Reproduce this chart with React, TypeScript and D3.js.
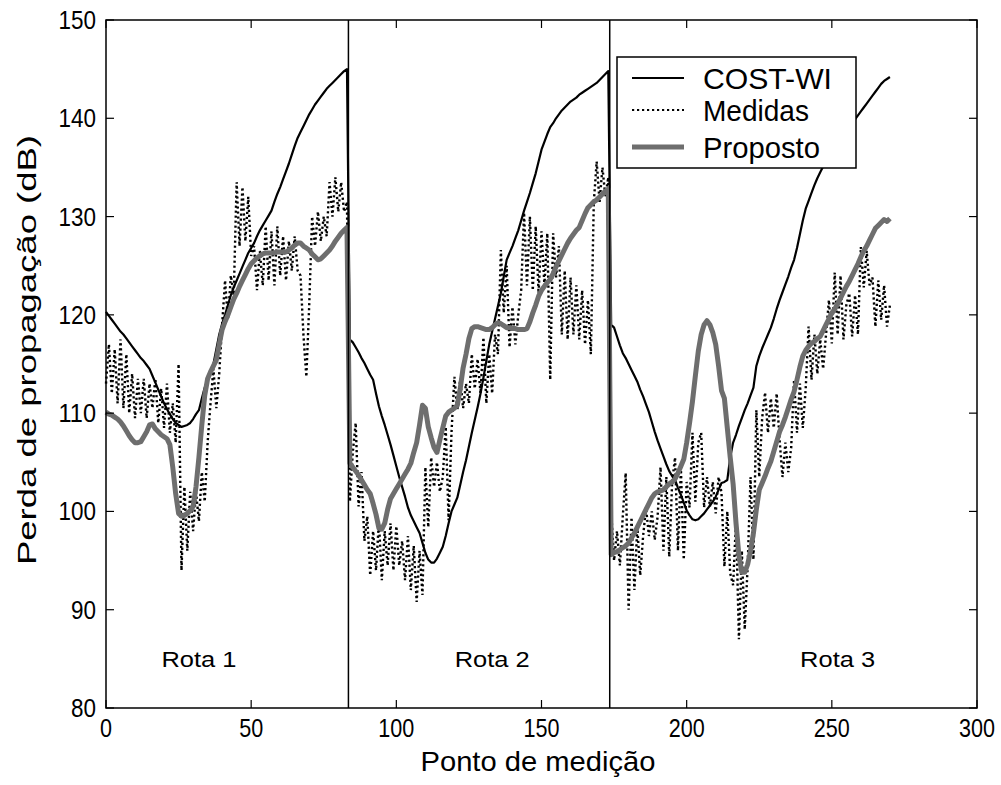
import React from "react";
import * as d3 from "d3";

// ---- DATA ----
const xTicks = [0, 50, 100, 150, 200, 250, 300];
const yTicks = [80, 90, 100, 110, 120, 130, 140, 150];
const routeBounds = [83.5, 173.5];
const routeLabels = ["Rota 1", "Rota 2", "Rota 3"];
const routeLabelX = [32, 133, 252];
const legendNames = ["COST-WI", "Medidas", "Proposto"];

// COST-WI model, points 0..270
const costRoute1 = [120.3,119.9,119.5,119.1,118.7,118.3,118.0,117.6,117.2,116.8,116.4,116.0,115.6,115.3,114.9,114.5,113.8,113.1,112.4,111.7,111.0,110.4,109.9,109.4,109.0,108.8,108.6,108.7,108.8,109.0,109.4,109.9,110.3,111.5,112.6,113.4,114.2,115.0,116.5,118.0,119.1,120.0,121.0,122.0,122.8,123.5,124.2,124.9,125.6,126.3,126.8,127.3,128.0,128.6,129.1,129.6,130.1,130.6,131.5,132.3,133.0,133.8,134.6,135.4,136.3,137.2,138.0,138.6,139.2,139.8,140.4,140.9,141.4,141.8,142.2,142.6,143.0,143.3,143.6,143.9,144.2,144.5,144.8,145.0];
const costRoute2 = [117.5,117.2,116.7,116.2,115.6,115.1,114.5,113.9,113.4,112.0,110.7,109.7,108.8,107.8,106.8,105.7,104.6,103.5,102.5,101.5,100.4,99.6,99.0,98.4,97.8,96.8,95.8,95.1,94.8,94.8,95.2,95.8,96.4,97.5,98.8,100.0,100.7,101.4,102.7,104.0,105.2,106.6,108.0,109.3,110.6,112.0,113.6,115.3,117.0,118.3,119.6,120.9,122.2,123.9,125.6,126.3,127.0,127.8,128.6,129.6,130.6,131.5,132.4,133.4,134.4,135.6,136.8,137.6,138.4,139.1,139.5,140.0,140.4,140.8,141.1,141.4,141.7,141.9,142.1,142.4,142.6,142.8,143.0,143.2,143.4,143.6,143.9,144.2,144.5,144.8];
const costRoute3 = [119.0,118.7,117.8,116.9,116.1,115.6,115.0,114.4,113.8,113.2,112.4,111.7,110.9,110.1,109.1,108.1,107.2,106.4,105.6,104.8,104.1,103.6,103.2,102.4,101.7,100.9,100.1,99.6,99.2,99.1,99.2,99.5,99.8,100.2,100.6,101.0,101.5,102.2,102.9,103.0,103.2,105.5,107.0,107.8,108.7,109.5,110.3,111.0,111.8,112.6,114.8,115.8,116.6,117.3,118.0,118.7,119.6,120.6,121.5,122.3,123.1,123.9,124.8,125.6,126.8,128.2,129.6,130.8,131.6,132.4,133.2,133.9,134.5,135.1,135.6,136.1,136.6,137.0,137.4,137.9,138.3,138.7,139.1,139.5,139.9,140.3,140.7,141.1,141.5,141.9,142.3,142.7,143.1,143.5,143.8,144.0,144.2];

// Measurements
const medRoute1 = [113,117,112,116.5,111,117.5,110.5,116,110,114,109.5,113.5,110,113.5,109.5,113,110.5,113.5,109,112.5,108.5,113,108,111,107,115,94,102.5,96,102,98,102,99,104,101,107,111,114.5,110.5,114,119,123.5,119.5,124,122,133.5,127,133,127.5,132,126,127,122.5,126.5,123,129,123.5,128.5,123,129,124,128,123.5,127.5,124.5,128,124.5,124,118,113.7,121,130,127,130.5,127.5,130,128,133.5,130,134,130.5,133.5,130.5,131.5];
const medRoute2 = [101,106,109,100.5,104,97,99.5,93.5,98,94,99,93,98,94.5,98.8,94,98.5,94.5,97,93,97.5,92,96.5,90.8,96,91.5,104.5,98.4,105.5,102.5,105,102,103.5,108.6,99.1,108,113.7,110.3,113.5,110.5,113,111,116,112.5,115.5,112,117.7,111,116,112,118,116,126.6,120.2,125,116.7,120.8,117,120,122.5,130.4,123,130,122.5,129,122.2,128.5,123,128.3,113.4,128.3,123.8,127,118,124.5,117.5,123.8,118,123,117.5,122.5,117,121.5,116,131.4,135.6,131.5,135,132,134];
const medRoute3 = [100,95,98,94.5,99.5,103.9,90,99.4,92,98.5,93.5,97.5,100.4,97.5,100,97.1,99.5,104.5,96,103.5,95.4,103,105.5,96,104.5,95.1,103,100.4,108,101,107,108,100.4,103.5,100.5,103,99.8,103.5,101.9,94.4,100,93.7,92.5,99.1,87,96,88,94.4,103.5,95.1,110.3,103.5,109.5,112.1,108,111.5,108.5,112,107.3,103.5,107,104,106.5,113.4,108,113,108.5,112.5,118.8,113.4,118,114,117.5,114.5,118,121.5,117.1,124.3,118,124,117.5,121,122.2,117.8,122,118,126.9,122.8,126.5,123,123.8,118.8,123.5,119.5,123,118.8,121];

// Proposed model
const propRoute1 = [110.1,109.9,109.8,109.6,109.4,109.1,108.7,108.2,107.7,107.3,107.0,107.0,107.1,107.6,108.1,108.8,108.9,108.4,108.1,107.8,107.6,107.4,106.8,104.5,101.8,99.8,99.5,99.6,99.8,100.1,100.5,102.5,105.5,108.8,111.8,113.5,114.2,114.8,115.4,117.0,118.5,119.3,120.0,120.8,121.6,122.2,122.9,123.5,124.1,124.7,125.2,125.5,125.8,126.0,126.2,126.3,126.3,126.3,126.3,126.4,126.4,126.4,126.4,126.6,126.8,127.1,127.3,127.3,127.0,126.8,126.6,126.2,125.9,125.6,125.7,126.0,126.3,126.6,127.0,127.5,127.9,128.3,128.6,128.9];
const propRoute2 = [104.9,104.5,104.1,103.7,103.2,102.7,102.2,101.8,100.8,99.7,98.3,98.2,98.8,100.2,101.3,101.8,102.3,102.8,103.3,103.8,104.3,104.9,106.0,107.0,108.8,110.8,110.5,108.6,107.5,106.5,106.0,107.3,108.5,109.7,110.1,110.3,110.5,110.8,112.5,114.6,116.0,117.6,118.6,118.8,118.8,118.7,118.6,118.5,118.5,118.7,119.0,119.2,119.1,118.9,118.7,118.7,118.6,118.6,118.5,118.5,118.5,118.6,119.3,120.2,121.0,121.9,122.5,122.9,123.3,123.6,124.2,124.9,125.5,126.1,126.7,127.3,127.8,128.2,128.6,128.9,129.6,130.3,130.9,131.2,131.5,131.7,132.0,132.3,132.6,132.8];
const propRoute3 = [95.6,95.8,95.9,96.1,96.3,96.5,96.8,97.3,97.8,98.4,99.0,99.6,100.2,100.8,101.4,101.8,102.0,102.1,102.2,102.5,102.8,103.0,103.3,103.9,104.6,105.3,107.0,109.0,111.2,113.8,116.3,118.0,119.0,119.4,119.0,118.2,117.0,114.8,112.3,111.5,108.5,105.5,102.8,98.8,95.5,93.8,93.8,94.6,96.0,97.8,100.2,102.2,102.9,103.6,104.4,105.1,106.1,107.1,108.1,108.8,109.6,110.5,111.4,112.2,113.4,114.7,115.8,116.4,116.8,117.1,117.3,117.6,117.8,118.4,119.0,119.6,120.2,120.6,121.1,121.7,122.3,122.9,123.4,124.0,124.6,125.2,125.9,126.5,127.0,127.6,128.2,128.8,129.1,129.4,129.7,129.5,129.8];

const cost = [...costRoute1, ...costRoute2, ...costRoute3];
const medidas = [...medRoute1, ...medRoute2, ...medRoute3];
const proposto = [...propRoute1, ...propRoute2, ...propRoute3];

// ---- LAYOUT ----
const W = 1001, H = 785;
const left = 106, right = 977, top = 20, bottom = 708;
const GRAY = "#6e6e6e";
const FONT = "'Liberation Sans', Arial, Helvetica, sans-serif";

export default function App() {
  const x = d3.scaleLinear().domain([0, 300]).range([left, right]);
  const y = d3.scaleLinear().domain([80, 150]).range([bottom, top]);
  const line = d3.line<number>().x((_, i) => x(i)).y((d) => y(d));
  const tick = 8;

  return (
    <svg width={W} height={H} style={{ position: "absolute", left: 0, top: 0, background: "#fff" }}>
      <rect x={0} y={0} width={W} height={H} fill="#fff" />
      {/* data lines */}
      <path d={line(cost) || ""} fill="none" stroke="#000" strokeWidth={2.2} strokeLinejoin="round" />
      <path d={line(medidas) || ""} fill="none" stroke="#000" strokeWidth={2.4} strokeDasharray="2.2 2.8" />
      <path d={line(proposto) || ""} fill="none" stroke={GRAY} strokeWidth={5} strokeLinejoin="round" />
      {/* route separators */}
      {routeBounds.map((b) => (
        <line key={b} x1={x(b)} x2={x(b)} y1={top} y2={bottom} stroke="#000" strokeWidth={1.5} />
      ))}
      {/* axes box */}
      <rect x={left} y={top} width={right - left} height={bottom - top} fill="none" stroke="#000" strokeWidth={1.5} />
      {xTicks.map((t) => (
        <g key={"x" + t}>
          <line x1={x(t)} x2={x(t)} y1={bottom} y2={bottom - tick} stroke="#000" strokeWidth={1.2} />
          <line x1={x(t)} x2={x(t)} y1={top} y2={top + tick} stroke="#000" strokeWidth={1.2} />
          <text x={x(t)} y={737} textAnchor="middle" fontFamily={FONT} fontSize={26}
            textLength={String(t).length * 12} lengthAdjust="spacingAndGlyphs">{t}</text>
        </g>
      ))}
      {yTicks.map((t) => (
        <g key={"y" + t}>
          <line x1={left} x2={left + tick} y1={y(t)} y2={y(t)} stroke="#000" strokeWidth={1.2} />
          <line x1={right} x2={right - tick} y1={y(t)} y2={y(t)} stroke="#000" strokeWidth={1.2} />
          <text x={96} y={y(t) + 9} textAnchor="end" fontFamily={FONT} fontSize={26}
            textLength={String(t).length * 12.5} lengthAdjust="spacingAndGlyphs">{t}</text>
        </g>
      ))}
      {/* route labels */}
      {routeLabels.map((r, i) => (
        <text key={r} x={x(routeLabelX[i])} y={667} textAnchor="middle" fontFamily={FONT} fontSize={22}
          textLength={75} lengthAdjust="spacingAndGlyphs">{r}</text>
      ))}
      {/* axis labels */}
      <text x={538} y={771} textAnchor="middle" fontFamily={FONT} fontSize={28}
        textLength={235} lengthAdjust="spacingAndGlyphs">Ponto de medição</text>
      <text transform={`translate(36, 350) rotate(-90)`} textAnchor="middle" fontFamily={FONT} fontSize={26}
        textLength={430} lengthAdjust="spacingAndGlyphs">Perda de propagação (dB)</text>
      {/* legend */}
      <g>
        <rect x={617} y={57} width={239} height={111} fill="#fff" stroke="#000" strokeWidth={1.5} />
        {legendNames.map((n, i) => {
          const ly = [78, 110, 147][i];
          return (
            <g key={n}>
              <line x1={632} x2={684} y1={ly} y2={ly}
                stroke={i === 2 ? GRAY : "#000"}
                strokeWidth={i === 2 ? 5 : 2.2}
                strokeDasharray={i === 1 ? "2.2 2.8" : undefined} />
              <text x={703} y={ly + 11} fontFamily={FONT} fontSize={30}
                textLength={[129, 106, 117][i]} lengthAdjust="spacingAndGlyphs">{n}</text>
            </g>
          );
        })}
      </g>
    </svg>
  );
}
